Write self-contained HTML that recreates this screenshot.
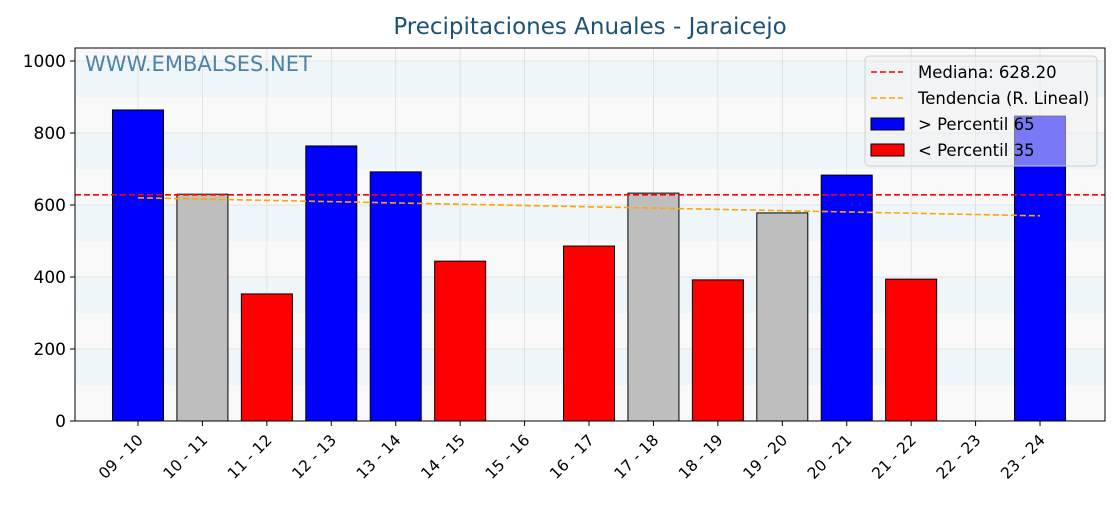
<!DOCTYPE html>
<html><head><meta charset="utf-8">
<style>
body{margin:0;background:#fff;width:1120px;height:500px;overflow:hidden;font-family:"Liberation Sans","DejaVu Sans",sans-serif;}
</style></head>
<body>
<svg id="chart" width="1120" height="500" xmlns="http://www.w3.org/2000/svg" font-family="DejaVu Sans, Liberation Sans, sans-serif">
<text x="590" y="34" text-anchor="middle" font-size="23" fill="#1b5276">Precipitaciones Anuales - Jaraicejo</text>
<g id="plot"></g>
</svg>
<script>
const categories=["09 - 10","10 - 11","11 - 12","12 - 13","13 - 14","14 - 15","15 - 16","16 - 17","17 - 18","18 - 19","19 - 20","20 - 21","21 - 22","22 - 23","23 - 24"];
const values=[864,630,353,764,692,444,0,486,633,392,578,683,394,0,847];
const classes=["high","mid","low","high","high","low","none","low","mid","low","mid","high","low","none","high"];
const yTicks=[0,200,400,600,800,1000];
const median=628.20;
const trendStart=620, trendEnd=570;

const L=75,R=1105,T=48,B=421;
const y=v=>B-v*0.36;
const x=i=>138+i*64.43;
const bw=51;
const ns="http://www.w3.org/2000/svg";
const g=document.getElementById('plot');
function mk(tag,attrs,parent){const e=document.createElementNS(ns,tag);for(const k in attrs)e.setAttribute(k,attrs[k]);(parent||g).appendChild(e);return e;}

const bgGroup=mk('g',{});


mk('rect',{x:L,y:T,width:R-L,height:B-T,fill:'#f9f9f9'},bgGroup);
for(let k=1;k<10;k+=2){
  mk('rect',{x:L,y:y(k*100+100),width:R-L,height:36,fill:'#eef6f9'},bgGroup);
}
for(let i=0;i<categories.length;i++) mk('line',{x1:x(i),x2:x(i),y1:T,y2:B,stroke:'#dddddd','stroke-width':0.8});
yTicks.forEach(t=>mk('line',{x1:L,x2:R,y1:y(t),y2:y(t),stroke:'#dddddd','stroke-width':0.8}));

const wm=mk('text',{x:85,y:71,'font-size':21,fill:'#2f6f97','fill-opacity':0.85});
wm.textContent='WWW.EMBALSES.NET';



const col={high:'#0000ff',mid:'#bebebe',low:'#ff0000',none:'none'};
values.forEach((v,i)=>{
  if(v<=0)return;
  const r=mk('rect',{x:x(i)-bw/2,y:y(v),width:bw,height:B-y(v),fill:col[classes[i]],stroke:'#000','stroke-width':1});
  
  
});
const ml=mk('line',{x1:L,x2:R,y1:y(median),y2:y(median),stroke:'#ff0000','stroke-width':1.6,'stroke-dasharray':'6,3'});


const tl=mk('line',{x1:x(0),x2:x(categories.length-1),y1:y(trendStart),y2:y(trendEnd),stroke:'#ffa500','stroke-width':1.6,'stroke-dasharray':'6,3'});



mk('rect',{x:L,y:T,width:R-L,height:B-T,fill:'none',stroke:'#000','stroke-width':1});
yTicks.forEach(t=>{
  mk('line',{x1:L-5,x2:L,y1:y(t),y2:y(t),stroke:'#000'});
  const tx=mk('text',{x:L-9,y:y(t)+6,'text-anchor':'end','font-size':17,fill:'#000'});
  tx.textContent=t;
  
  
});
categories.forEach((c,i)=>{
  mk('line',{x1:x(i),x2:x(i),y1:B,y2:B+5,stroke:'#000'});
  const tx=mk('text',{x:x(i)+6,y:B+20,'text-anchor':'end','font-size':15.5,fill:'#000',transform:`rotate(-45 ${x(i)+6} ${B+20})`});
  tx.textContent=c;
  
  
});
const lg=mk('g',{});


mk('rect',{x:865,y:56,width:232,height:110,rx:4,fill:'#f2f2f2','fill-opacity':0.5,stroke:'#d0d0d0'},lg);
const items=[['line','#ff0000','Mediana: 628.20'],['line','#ffa500','Tendencia (R. Lineal)'],['box','#0000ff',' > Percentil 65'],['box','#ff0000',' < Percentil 35']];
items.forEach((it,k)=>{
  const yy=72+k*26;
  const e=mk('g',{},lg);
  
  
  if(it[0]==='line') mk('line',{x1:871,x2:903,y1:yy,y2:yy,stroke:it[1],'stroke-width':1.6,'stroke-dasharray':'6,3'},e);
  else mk('rect',{x:871,y:yy-6,width:33,height:12,fill:it[1],stroke:'#000'},e);
  const t=mk('text',{x:918,y:yy+6,'font-size':16.5,fill:'#000','xml:space':'preserve'},e);
  t.textContent=it[2];
});
</script>
</body></html>
